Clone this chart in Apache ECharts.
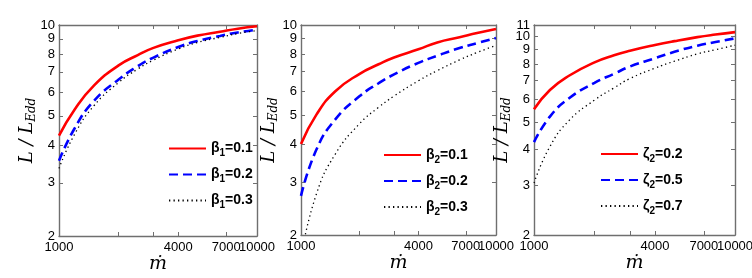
<!DOCTYPE html>
<html><head><meta charset="utf-8">
<script src="https://cdn.jsdelivr.net/npm/echarts@6/dist/echarts.min.js"></script>
<style>html,body{margin:0;padding:0;background:#fff}#c{width:752px;height:278px}</style>
</head><body><div id="c"></div>
<script>
// ---- data ----
const mdot = [1000, 1200, 1500, 2000, 2500, 3000, 4000, 5000, 6500, 8000, 10000];
const xTickValues = [1000, 2000, 3000, 4000, 7000, 10000];
const xLabelValues = [1000, 4000, 7000];
const xLabelValuesEnd = [10000];
const yTicks12 = [2, 3, 4, 5, 6, 7, 8, 9, 10];
const yTicks3 = [2, 3, 4, 5, 6, 7, 8, 9, 10, 11];
const yLabels12 = [2, 3, 4, 5, 6, 7, 8, 9, 10];
const yLabels3 = [2, 3, 4, 5, 6, 7, 8, 9, 10];
const yLabels3End = [11];
const yRange12 = [2, 10];
const yRange3 = [2, 11];

const names1 = ['β1=0.1', 'β1=0.2', 'β1=0.3'];
const names2 = ['β2=0.1', 'β2=0.2', 'β2=0.3'];
const names3 = ['ζ2=0.2', 'ζ2=0.5', 'ζ2=0.7'];

const beta1_01 = [4.30, 5.25, 6.30, 7.35, 7.95, 8.40, 8.90, 9.22, 9.50, 9.72, 9.90];
const beta1_02 = [3.55, 4.55, 5.60, 6.60, 7.30, 7.80, 8.45, 8.85, 9.20, 9.45, 9.65];
const beta1_03 = [3.35, 4.35, 5.40, 6.45, 7.15, 7.65, 8.33, 8.75, 9.10, 9.37, 9.58];

const beta2_01 = [4.02, 5.03, 6.02, 6.88, 7.40, 7.80, 8.30, 8.75, 9.10, 9.40, 9.70];
const beta2_02 = [2.70, 3.85, 4.85, 5.80, 6.40, 6.85, 7.48, 7.90, 8.38, 8.70, 9.05];
const beta2_03 = [1.70, 2.74, 3.72, 4.70, 5.32, 5.80, 6.52, 7.05, 7.65, 8.10, 8.55];

const zeta2_02 = [5.55, 6.49, 7.30, 8.12, 8.60, 8.92, 9.35, 9.65, 9.97, 10.18, 10.38];
const zeta2_05 = [4.25, 5.23, 6.08, 6.88, 7.40, 7.85, 8.40, 8.85, 9.30, 9.58, 9.87];
const zeta2_07 = [3.05, 4.10, 5.08, 5.98, 6.60, 7.12, 7.75, 8.20, 8.70, 9.00, 9.34];

// ---- chart ----
const lg = Math.log10;
const pts = ys => mdot.map((x, i) => [lg(x), lg(ys[i])]);
const fmtPow = v => String(Math.round(Math.pow(10, v)));
const AX = '#6f6f6f';
const SANS = "'Liberation Sans', Arial, sans-serif";
const SERIF = "'DejaVu Serif', 'Liberation Serif', serif";

const grids = [
  {left: 59, top: 25, width: 198, height: 211},
  {left: 301, top: 25, width: 195, height: 210},
  {left: 534, top: 25, width: 201, height: 210}
].map(g => Object.assign({outerBoundsMode: 'none', containLabel: false}, g));

const yRanges = [yRange12, yRange12, yRange3];
const yTickSets = [yTicks12, yTicks12, yTicks3];
const yLabelSets = [yLabels12, yLabels12, yLabels3];
const yLabelEndSets = [null, null, yLabels3End];

const labelStyle = {color: '#000', fontFamily: SANS, fontSize: 13};

const xAxes = [], yAxes = [];
for (let i = 0; i < 3; i++) {
  const base = {
    type: 'value', gridIndex: i, min: lg(1000), max: lg(10000),
    splitLine: {show: false},
    axisLine: {show: true, lineStyle: {color: AX, width: 1.4}},
    axisTick: {show: true, inside: true, length: 4, lineStyle: {color: AX, width: 1}, customValues: xTickValues.map(lg)}
  };
  xAxes.push(Object.assign({}, base, {
    position: 'bottom',
    axisLabel: Object.assign({show: true, customValues: xLabelValues.map(lg), formatter: fmtPow, margin: 5}, labelStyle),
    name: 'ṁ', nameLocation: 'middle', nameGap: 19, nameMoveOverlap: false,
    nameTextStyle: {fontFamily: SERIF, fontStyle: 'italic', fontSize: 19, color: '#000'}
  }));
  xAxes.push(Object.assign({}, base, {position: 'top', axisLabel: {show: false}}));
  xAxes.push(Object.assign({}, base, {
    position: 'bottom', axisLine: {show: false}, axisTick: {show: false},
    axisLabel: Object.assign({show: true, customValues: xLabelValuesEnd.map(lg), formatter: fmtPow, margin: 5}, labelStyle)
  }));

  const ybase = {
    type: 'value', gridIndex: i, min: lg(yRanges[i][0]), max: lg(yRanges[i][1]),
    splitLine: {show: false},
    axisLine: {show: true, lineStyle: {color: AX, width: 1.4}},
    axisTick: {show: true, inside: true, length: 4, lineStyle: {color: AX, width: 1}, customValues: yTickSets[i].map(lg)}
  };
  yAxes.push(Object.assign({}, ybase, {
    position: 'left',
    axisLabel: Object.assign({show: true, customValues: yLabelSets[i].map(lg), formatter: fmtPow, margin: 4}, labelStyle),
    name: '{a|L / L}{b|Edd}', nameLocation: 'middle', nameGap: 21, nameRotate: 90, nameMoveOverlap: false,
    nameTextStyle: {
      rich: {
        a: {fontFamily: SERIF, fontStyle: 'italic', fontSize: 18, lineHeight: 22, color: '#000'},
        b: {fontFamily: SERIF, fontStyle: 'italic', fontSize: 12, lineHeight: 13, verticalAlign: 'bottom', color: '#000'}
      }
    }
  }));
  yAxes.push(Object.assign({}, ybase, {position: 'right', axisLabel: {show: false}}));
  const endY = yLabelEndSets[i];
  yAxes.push(Object.assign({}, ybase, {
    position: 'left', axisLine: {show: false}, axisTick: {show: false},
    axisLabel: endY ? Object.assign({show: true, customValues: endY.map(lg), formatter: fmtPow, margin: 4}, labelStyle) : {show: false}
  }));
}

const styles = [
  {color: '#ff0000', width: 2.6, type: 'solid'},
  {color: '#0000ff', width: 2.6, type: [9, 5]},
  {color: '#000000', width: 1.3, type: [1.3, 3.2]}
];
const panelData = [
  [beta1_01, beta1_02, beta1_03],
  [beta2_01, beta2_02, beta2_03],
  [zeta2_02, zeta2_05, zeta2_07]
];
const panelNames = [names1, names2, names3];

const series = [];
for (let p = 0; p < 3; p++) {
  for (let k = 0; k < 3; k++) {
    series.push({
      type: 'line', name: panelNames[p][k], xAxisIndex: 3 * p, yAxisIndex: 3 * p,
      data: pts(panelData[p][k]), symbol: 'none', showSymbol: false,
      smooth: 0.5, clip: true,
      lineStyle: styles[k], itemStyle: {color: styles[k].color},
      emphasis: {disabled: true}
    });
  }
}

const richLegend = {
  g: {fontFamily: SANS, fontSize: 14, fontWeight: 'bold', lineHeight: 20, color: '#000'},
  s: {fontFamily: SANS, fontSize: 10, fontWeight: 'bold', lineHeight: 10, verticalAlign: 'bottom', color: '#000'},
  t: {fontFamily: SANS, fontSize: 14, fontWeight: 'bold', lineHeight: 20, color: '#000'}
};
const legendFmt = name => '{g|' + name[0] + '}{s|' + name[1] + '}{t|' + name.slice(2) + '}';
const legendPos = [{left: 168, top: 141.5}, {left: 383, top: 148}, {left: 600, top: 147}];
const legends = legendPos.map((pos, p) => ({
  data: panelNames[p], left: pos.left, top: pos.top, orient: 'vertical',
  itemWidth: 37, itemHeight: 14, itemGap: 9, padding: 0,
  selectedMode: false, formatter: legendFmt,
  itemStyle: {color: 'rgba(0,0,0,0)', borderWidth: 0, opacity: 0},
  textStyle: {rich: richLegend, color: '#000'}
}));

const chart = echarts.init(document.getElementById('c'), null, {renderer: 'canvas'});
chart.setOption({
  animation: false,
  backgroundColor: '#ffffff',
  grid: grids,
  xAxis: xAxes,
  yAxis: yAxes,
  legend: legends,
  series: series
});
</script>
</body></html>
